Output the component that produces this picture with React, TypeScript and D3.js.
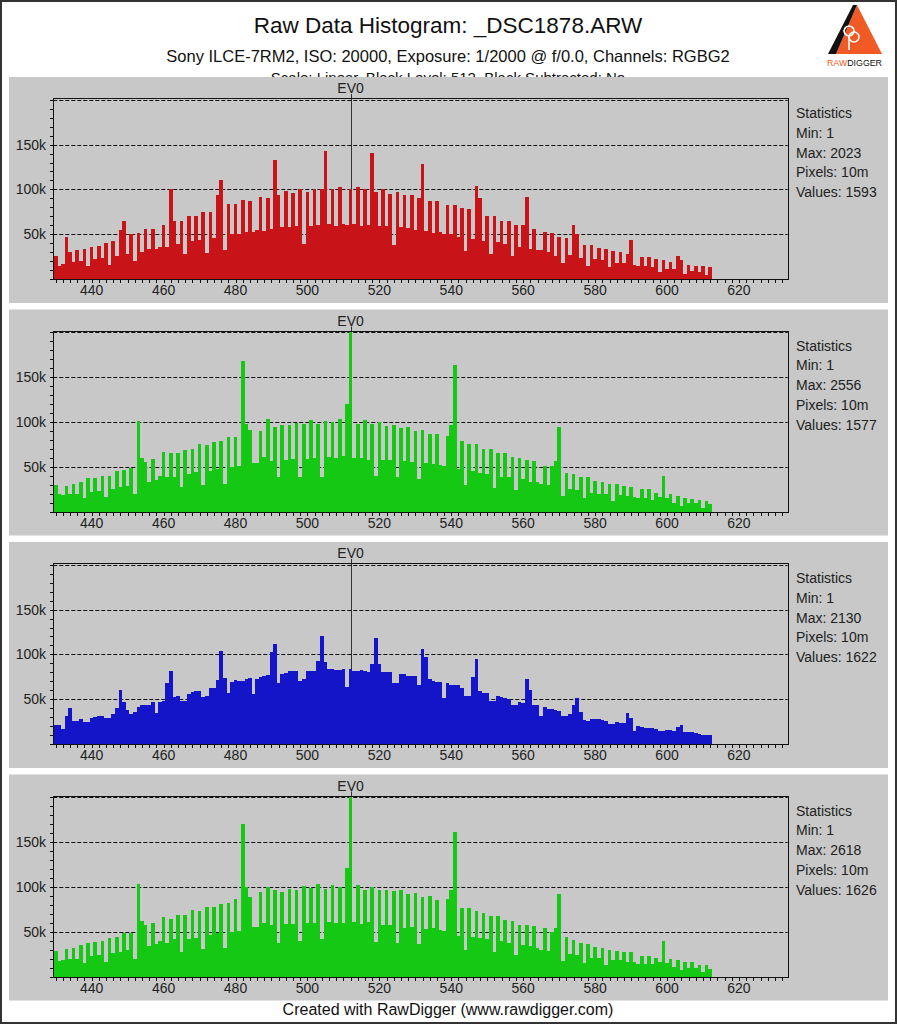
import React from "react";
import * as d3 from "d3";

// ---------- data (counts in thousands, one per raw value starting at 430) ----------
const START_VALUE = 430;

const redCounts = [
  26, 15, 17, 47, 30, 19, 32, 20, 33, 14,
  36, 22, 37, 23, 40, 16, 42, 26, 55, 65,
  28, 50, 20, 51, 30, 56, 33, 56, 33, 36,
  60, 36, 100, 65, 39, 65, 28, 70, 42, 70,
  44, 75, 29, 75, 46, 94, 111, 32, 84, 50,
  84, 50, 88, 52, 87, 52, 55, 92, 54, 90,
  56, 133, 94, 58, 98, 58, 96, 59, 100, 39,
  97, 59, 101, 60, 100, 143, 61, 100, 59, 103,
  61, 60, 100, 61, 103, 59, 100, 60, 141, 97,
  59, 100, 59, 95, 38, 97, 58, 94, 57, 94,
  55, 90, 128, 54, 87, 51, 87, 52, 50, 83,
  50, 83, 47, 79, 31, 78, 45, 104, 90, 42,
  70, 28, 70, 41, 65, 39, 65, 26, 60, 36,
  60, 92, 33, 56, 32, 32, 52, 30, 51, 26,
  47, 18, 46, 27, 60, 50, 23, 38, 15, 38,
  22, 35, 21, 34, 13, 31, 18, 30, 18, 28,
  44, 16, 14, 25, 14, 24, 13, 22, 8, 21,
  11, 19, 11, 26, 21, 6, 16, 9, 15, 8,
  14, 5, 13,
];

const greenCounts = [
  30, 19, 18, 29, 19, 31, 20, 33, 15, 37,
  22, 37, 23, 40, 16, 40, 25, 45, 27, 46,
  28, 49, 19, 101, 60, 55, 33, 59, 35, 40,
  66, 39, 65, 39, 65, 27, 69, 42, 70, 44,
  75, 30, 74, 45, 78, 47, 79, 31, 83, 50,
  83, 51, 168, 98, 91, 54, 54, 90, 61, 103,
  56, 94, 39, 97, 58, 96, 59, 99, 39, 98,
  59, 102, 60, 98, 39, 101, 61, 100, 60, 103,
  62, 120, 201, 60, 98, 60, 102, 58, 98, 40,
  100, 58, 95, 58, 96, 38, 93, 56, 94, 55,
  90, 36, 91, 54, 87, 53, 87, 52, 51, 84,
  97, 163, 47, 79, 30, 75, 45, 75, 43, 70,
  42, 70, 26, 65, 39, 65, 38, 61, 24, 60,
  36, 57, 33, 56, 33, 31, 51, 30, 51, 56,
  94, 17, 43, 25, 42, 24, 39, 15, 38, 21,
  34, 20, 33, 20, 31, 12, 31, 18, 28, 17,
  27, 16, 15, 25, 15, 25, 13, 21, 16, 40,
  15, 19, 9, 17, 6, 15, 9, 14, 9, 13,
  4, 12, 8,
];

const blueCounts = [
  21, 21, 17, 31, 40, 26, 26, 28, 24, 24,
  29, 30, 31, 31, 29, 29, 34, 40, 60, 47,
  38, 34, 36, 41, 43, 43, 44, 47, 35, 47,
  48, 68, 81, 52, 54, 48, 48, 56, 58, 59,
  59, 53, 54, 63, 63, 71, 104, 74, 57, 69,
  71, 70, 70, 72, 74, 56, 73, 75, 76, 77,
  103, 112, 68, 78, 79, 81, 81, 81, 70, 72,
  82, 81, 82, 93, 120, 92, 84, 84, 83, 83,
  84, 64, 84, 82, 82, 83, 82, 80, 89, 118,
  89, 80, 80, 80, 68, 68, 78, 78, 76, 76,
  76, 66, 106, 97, 73, 70, 69, 69, 51, 68,
  66, 66, 66, 62, 54, 54, 75, 95, 59, 57,
  57, 48, 48, 54, 52, 51, 50, 44, 44, 47,
  46, 73, 60, 43, 43, 31, 41, 39, 39, 38,
  37, 31, 31, 34, 43, 51, 36, 27, 26, 28,
  28, 28, 27, 26, 22, 22, 24, 23, 23, 35,
  29, 15, 20, 19, 18, 18, 18, 17, 14, 14,
  16, 16, 15, 19, 21, 13, 13, 13, 12, 11,
  10, 10, 10,
];

const green2Counts = [
  29, 17, 18, 31, 19, 32, 20, 35, 15, 37,
  23, 39, 24, 40, 16, 43, 26, 44, 27, 48,
  30, 48, 19, 103, 62, 57, 34, 60, 36, 40,
  66, 37, 64, 42, 69, 27, 69, 42, 74, 43,
  73, 31, 78, 46, 78, 48, 81, 32, 82, 50,
  87, 51, 170, 100, 89, 55, 55, 94, 60, 100,
  58, 96, 37, 94, 59, 98, 59, 96, 40, 101,
  60, 99, 60, 103, 42, 98, 61, 102, 60, 100,
  60, 121, 201, 61, 102, 59, 97, 61, 100, 38,
  96, 58, 97, 57, 95, 37, 96, 54, 92, 55,
  93, 36, 89, 53, 90, 54, 85, 52, 51, 86,
  96, 161, 45, 77, 30, 76, 44, 73, 43, 71,
  42, 67, 27, 67, 40, 63, 37, 62, 24, 58,
  35, 58, 34, 56, 32, 30, 54, 29, 50, 54,
  92, 17, 44, 25, 41, 24, 37, 15, 36, 21,
  33, 21, 32, 13, 30, 18, 29, 18, 27, 16,
  27, 16, 14, 23, 14, 23, 14, 21, 16, 40,
  15, 19, 11, 18, 7, 16, 10, 16, 9, 13,
  5, 13, 8,
];

const channelColors = ["#c81418", "#14c814", "#1414c8", "#14c814"];
const channelCounts = [redCounts, greenCounts, blueCounts, green2Counts];
const statMin = [1, 1, 1, 1];
const statMax = [2023, 2556, 2130, 2618];
const statPixels = ["10m", "10m", "10m", "10m"];
const statValues = [1593, 1577, 1622, 1626];

const xTickValues = [440, 460, 480, 500, 520, 540, 560, 580, 600, 620];
const yTickValues = [50000, 100000, 150000];
const yGridValues = [50000, 100000, 150000, 200000];
const EV0_VALUE = 512;

const TITLE = "Raw Data Histogram:  _DSC1878.ARW";
const SUBTITLE = "Sony ILCE-7RM2, ISO: 20000, Exposure: 1/2000 @ f/0.0, Channels: RGBG2";
const THIRD_LINE = "Scale: Linear, Black Level: 512, Black Subtracted: No";
const FOOTER = "Created with RawDigger (www.rawdigger.com)";

// ---------- layout ----------
const W = 897;
const H = 1024;
const FONT = "'Liberation Sans', Arial, Helvetica, sans-serif";
const PANEL_X = 9;
const PANEL_W = 879;
const PANEL_H = 226;
const PANEL_TOP0 = 77;
const PANEL_STEP = 232.5;
const PLOT_TOP_OFF = 21;
const PLOT_BOTTOM_OFF = 202;

const x = d3.scaleLinear().domain([429.33, 633.55]).range([53.3, 787.7]);

function Panel({ k }: { k: number }) {
  const top = PANEL_TOP0 + PANEL_STEP * k;
  const plotTop = top + PLOT_TOP_OFF;
  const plotBottom = top + PLOT_BOTTOM_OFF;
  const y = d3.scaleLinear().domain([0, 202000]).range([plotBottom, plotTop]);
  const counts = channelCounts[k];
  const color = channelColors[k];
  const [x0, x1] = x.range();
  const minorY = d3.range(0, 200001, 10000);
  const minorX = d3.range(430, 633, 2);
  const evx = Math.round(x(EV0_VALUE)) + 0.5;
  const stats = [
    "Statistics",
    `Min: ${statMin[k]}`,
    `Max: ${statMax[k]}`,
    `Pixels: ${statPixels[k]}`,
    `Values: ${statValues[k]}`,
  ];
  return (
    <g>
      <rect x={PANEL_X} y={top} width={PANEL_W} height={PANEL_H} fill="#c8c8c8" />
      {/* EV0 marker */}
      <text x={x(EV0_VALUE)} y={plotTop - 5} textAnchor="middle" fontSize={14} fill="#222" fontFamily={FONT}>
        EV0
      </text>
      <line x1={evx} x2={evx} y1={plotTop - 4} y2={plotBottom} stroke="#333" strokeWidth={1} />
      {/* grid */}
      {yGridValues.map((v) => (
        <line
          key={v}
          x1={x0}
          x2={x1}
          y1={Math.round(y(v)) + 0.5}
          y2={Math.round(y(v)) + 0.5}
          stroke="#111"
          strokeWidth={1}
          strokeDasharray="4,2"
        />
      ))}
      {/* bars */}
      <g shapeRendering="crispEdges">
        {counts.map((c, i) => {
          const v = START_VALUE + i;
          const left = x(v - 0.5);
          const right = x(v + 0.5);
          return (
            <rect
              key={i}
              x={left}
              y={y(c * 1000)}
              width={right - left}
              height={plotBottom - y(c * 1000)}
              fill={color}
            />
          );
        })}
      </g>
      {/* frame */}
      <rect
        x={Math.round(x0) + 0.5}
        y={Math.round(plotTop) + 0.5}
        width={Math.round(x1) - Math.round(x0)}
        height={Math.round(plotBottom) - Math.round(plotTop)}
        fill="none"
        stroke="#111"
        strokeWidth={1}
      />
      {/* y ticks */}
      {minorY.map((v) => (
        <line
          key={v}
          x1={Math.round(x0) - 3}
          x2={Math.round(x0)}
          y1={Math.round(y(v)) + 0.5}
          y2={Math.round(y(v)) + 0.5}
          stroke="#111"
        />
      ))}
      {yTickValues.map((v) => (
        <text
          key={v}
          x={46}
          y={y(v) + 5}
          textAnchor="end"
          fontSize={14}
          fill="#222"
          fontFamily={FONT}
        >
          {d3.format("d")(v / 1000)}k
        </text>
      ))}
      {/* x ticks */}
      {minorX.map((v) => (
        <line
          key={v}
          x1={Math.round(x(v)) + 0.5}
          x2={Math.round(x(v)) + 0.5}
          y1={Math.round(plotBottom)}
          y2={Math.round(plotBottom) + 4}
          stroke="#111"
        />
      ))}
      {xTickValues.map((v) => (
        <text
          key={v}
          x={x(v)}
          y={plotBottom + 16}
          textAnchor="middle"
          fontSize={14}
          fill="#222"
          fontFamily={FONT}
        >
          {v}
        </text>
      ))}
      {/* statistics */}
      {stats.map((s, j) => (
        <text key={j} x={796} y={top + 41 + j * 19.8} fontSize={14} fill="#222" fontFamily={FONT}>
          {s}
        </text>
      ))}
    </g>
  );
}

function Logo() {
  return (
    <g>
      <polygon points="857,5 882,54 836,54" fill="#f15a24" />
      <polygon points="857,5 836,54 828,54 853,5" fill="#111" />
      {/* small "shovel" mark drawn as a path */}
      <path
        d="M849,50 L849,36 M849,36 a5,5 0 1 1 0.1,0"
        fill="none"
        stroke="#fff"
        strokeWidth={1.6}
      />
      <circle cx={854} cy={37} r={5} fill="none" stroke="#fff" strokeWidth={1.6} />
      <text x={827} y={66} fontSize={9.5} fontFamily={FONT} textLength={55} lengthAdjust="spacingAndGlyphs">
        <tspan fill="#f15a24">RAW</tspan>
        <tspan fill="#111">DIGGER</tspan>
      </text>
    </g>
  );
}

export default function App() {
  return (
    <svg
      width={W}
      height={H}
      viewBox={`0 0 ${W} ${H}`}
      style={{ position: "absolute", left: 0, top: 0, display: "block" }}
      fontFamily={FONT}
    >
      <rect x={0} y={0} width={W} height={H} fill="#fff" />
      <text x={448} y={33} textAnchor="middle" fontSize={22.5} fill="#111">
        {TITLE}
      </text>
      <text x={448} y={62} textAnchor="middle" fontSize={16.5} fill="#111">
        {SUBTITLE}
      </text>
      <text x={448} y={83} textAnchor="middle" fontSize={15} fill="#111">
        {THIRD_LINE}
      </text>
      <Logo />
      {[0, 1, 2, 3].map((k) => (
        <Panel key={k} k={k} />
      ))}
      <text x={448} y={1015} textAnchor="middle" fontSize={16} fill="#111">
        {FOOTER}
      </text>
      <rect x={1} y={1} width={W - 2} height={H - 2} fill="none" stroke="#333" strokeWidth={2} />
    </svg>
  );
}
